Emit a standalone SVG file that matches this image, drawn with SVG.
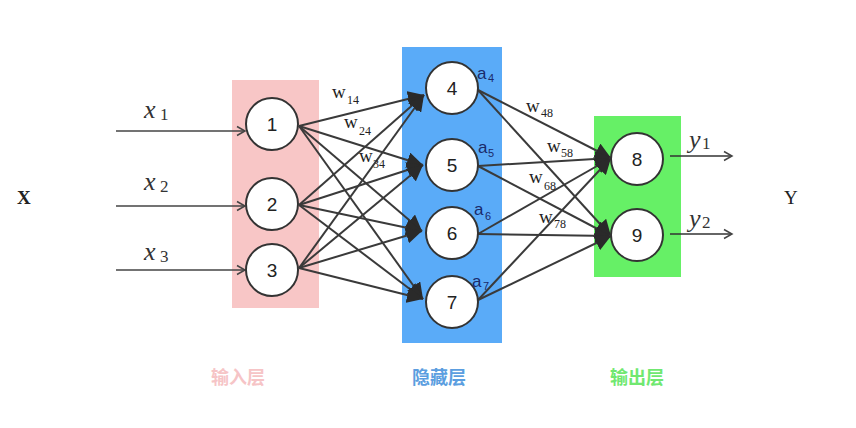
<svg xmlns="http://www.w3.org/2000/svg" width="856" height="428" viewBox="0 0 856 428">
<style>
.node circle{fill:#fff;stroke:#333;stroke-width:2}
.node text{font-family:"Liberation Sans",Arial,sans-serif;font-size:19px;fill:#222;text-anchor:middle}
.conn{stroke:#3a3a3a;stroke-width:2;fill:none;marker-end:url(#fill)}
.inp{stroke:#444;stroke-width:1.5;fill:none;marker-end:url(#open)}
.out{stroke:#333;stroke-opacity:0.75;stroke-width:1.8;fill:none;marker-end:url(#open)}
.w{font-family:"Liberation Serif","Times New Roman",serif;font-size:19px;fill:#222}
.w tspan{font-size:12px}
.a{font-family:"Liberation Sans",Arial,sans-serif;font-size:17px;fill:#1a2a6a}
.a tspan{font-size:11px}
.m{font-family:"Liberation Serif","Times New Roman",serif;font-size:26px;font-style:italic;fill:#333}
.m tspan{font-size:17px;font-style:normal}
.cap{font-family:"Noto Sans CJK SC",sans-serif;font-size:18px;font-weight:bold;text-anchor:middle}
</style>
<defs>
<marker id="fill" markerUnits="userSpaceOnUse" markerWidth="18" markerHeight="16" refX="16" refY="8" orient="auto">
<path d="M0,0 L16,8 L0,16 z" fill="#2a2a2a"/>
</marker>
<marker id="open" markerUnits="userSpaceOnUse" markerWidth="12" markerHeight="12" refX="10" refY="6" orient="auto">
<path d="M2,1.5 L10,6 L2,10.5" fill="none" stroke="#444" stroke-width="1.5"/>
</marker>
</defs>
<rect id="layer-input" x="232" y="80" width="87" height="228" fill="#f8c6c6"/>
<rect id="layer-hidden" x="402" y="47" width="100" height="296" fill="#5aabf8"/>
<rect id="layer-output" x="594" y="116" width="87" height="161" fill="#66f066"/>

<g id="connectors">
<line class="inp" x1="116" y1="131" x2="245" y2="131"/>
<line class="inp" x1="116" y1="206" x2="245" y2="206"/>
<line class="inp" x1="116" y1="270" x2="245" y2="270"/>
<line class="conn" x1="299" y1="126" x2="424" y2="95"/>
<line class="conn" x1="299" y1="126" x2="423" y2="165"/>
<line class="conn" x1="299" y1="126" x2="422" y2="231"/>
<line class="conn" x1="299" y1="126" x2="423" y2="299"/>
<line class="conn" x1="299" y1="205" x2="424" y2="95"/>
<line class="conn" x1="299" y1="205" x2="423" y2="165"/>
<line class="conn" x1="299" y1="205" x2="422" y2="231"/>
<line class="conn" x1="299" y1="205" x2="423" y2="299"/>
<line class="conn" x1="299" y1="268" x2="424" y2="95"/>
<line class="conn" x1="299" y1="268" x2="423" y2="165"/>
<line class="conn" x1="299" y1="268" x2="422" y2="231"/>
<line class="conn" x1="299" y1="268" x2="423" y2="299"/>
<line class="conn" x1="478" y1="90" x2="611" y2="158"/>
<line class="conn" x1="478" y1="90" x2="611" y2="236"/>
<line class="conn" x1="478" y1="166" x2="611" y2="158"/>
<line class="conn" x1="478" y1="166" x2="611" y2="236"/>
<line class="conn" x1="478" y1="234" x2="611" y2="158"/>
<line class="conn" x1="478" y1="234" x2="611" y2="236"/>
<line class="conn" x1="478" y1="300" x2="611" y2="158"/>
<line class="conn" x1="478" y1="300" x2="611" y2="236"/>
<line class="out" x1="670" y1="156" x2="732" y2="156"/>
<line class="out" x1="670" y1="234" x2="732" y2="234"/>
</g>

<g id="n1" class="node"><circle cx="272" cy="124" r="26"/><text x="272" y="131">1</text></g>
<g id="n2" class="node"><circle cx="272" cy="204" r="26"/><text x="272" y="211">2</text></g>
<g id="n3" class="node"><circle cx="272" cy="270" r="26"/><text x="272" y="277">3</text></g>
<g id="n4" class="node"><circle cx="452" cy="88" r="26"/><text x="452" y="95">4</text></g>
<g id="n5" class="node"><circle cx="452" cy="165" r="26"/><text x="452" y="172">5</text></g>
<g id="n6" class="node"><circle cx="452" cy="233" r="26"/><text x="452" y="240">6</text></g>
<g id="n7" class="node"><circle cx="452" cy="302" r="26"/><text x="452" y="309">7</text></g>
<g id="n8" class="node"><circle cx="637" cy="159" r="26"/><text x="637" y="166">8</text></g>
<g id="n9" class="node"><circle cx="637" cy="235" r="26"/><text x="637" y="242">9</text></g>

<g id="labels">
<text class="w" x="332" y="98">w<tspan x="347" y="104">14</tspan></text>
<text class="w" x="344" y="128">w<tspan x="359" y="135">24</tspan></text>
<text class="w" x="359" y="162">w<tspan x="373" y="168">34</tspan></text>
<text class="w" x="526" y="112">w<tspan x="541" y="117">48</tspan></text>
<text class="w" x="547" y="152">w<tspan x="561" y="157">58</tspan></text>
<text class="w" x="529" y="183">w<tspan x="544" y="190">68</tspan></text>
<text class="w" x="539" y="223">w<tspan x="554" y="228">78</tspan></text>
<text class="a" x="477" y="79">a<tspan x="488" y="82">4</tspan></text>
<text class="a" x="478" y="153">a<tspan x="488" y="157">5</tspan></text>
<text class="a" x="474" y="215">a<tspan x="485" y="220">6</tspan></text>
<text class="a" x="472" y="287">a<tspan x="483" y="290">7</tspan></text>
<text class="m" x="144" y="118">x<tspan x="160" y="120">1</tspan></text>
<text class="m" x="144" y="190">x<tspan x="160" y="192">2</tspan></text>
<text class="m" x="144" y="260">x<tspan x="160" y="262">3</tspan></text>
<text class="m" x="689" y="148">y<tspan x="702" y="149">1</tspan></text>
<text class="m" x="689" y="227">y<tspan x="702" y="228">2</tspan></text>
<text x="17" y="204" font-family="Liberation Serif,serif" font-size="19" font-weight="bold" fill="#222">X</text>
<text x="784" y="204" font-family="Liberation Serif,serif" font-size="19" fill="#222">Y</text>
<text class="cap" x="238" y="384" fill="#f6c4c6">输入层</text>
<text class="cap" x="439" y="384" fill="#5b9ee0">隐藏层</text>
<text class="cap" x="637" y="384" fill="#70e870">输出层</text>
</g>
</svg>
